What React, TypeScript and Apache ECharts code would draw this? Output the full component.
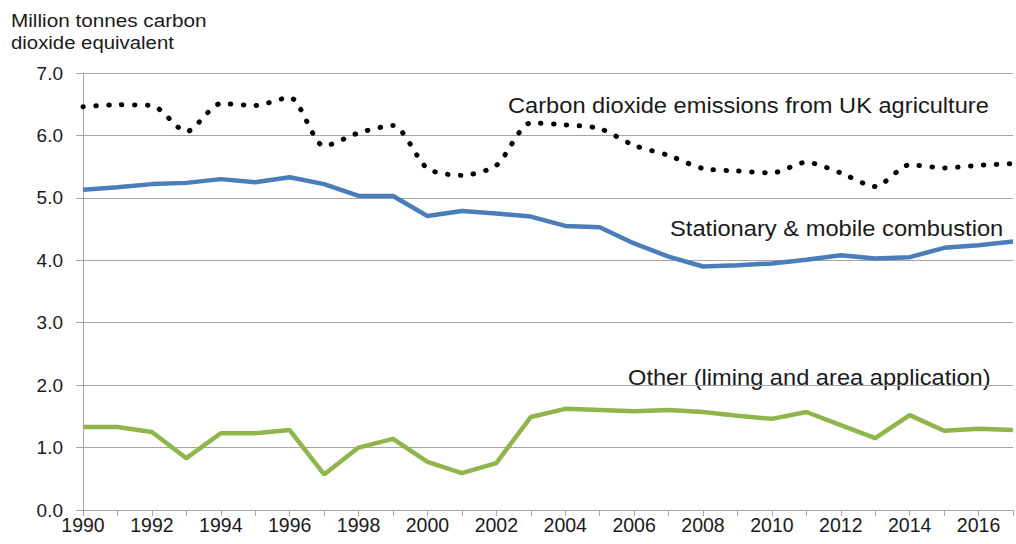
import React, { useEffect, useRef } from "react";
import * as echarts from "echarts";

const years = [1990, 1991, 1992, 1993, 1994, 1995, 1996, 1997, 1998, 1999, 2000, 2001, 2002, 2003, 2004, 2005, 2006, 2007, 2008, 2009, 2010, 2011, 2012, 2013, 2014, 2015, 2016, 2017];

const totalCO2 = [6.46, 6.49, 6.48, 6.06, 6.51, 6.48, 6.61, 5.83, 6.04, 6.16, 5.47, 5.36, 5.52, 6.2, 6.17, 6.11, 5.84, 5.68, 5.47, 5.43, 5.4, 5.57, 5.4, 5.18, 5.53, 5.48, 5.52, 5.55];
const combustion = [5.13, 5.17, 5.22, 5.24, 5.3, 5.25, 5.33, 5.22, 5.03, 5.03, 4.71, 4.79, 4.75, 4.7, 4.55, 4.53, 4.27, 4.06, 3.9, 3.92, 3.95, 4.01, 4.08, 4.03, 4.05, 4.2, 4.24, 4.3];
const other = [1.33, 1.33, 1.25, 0.83, 1.23, 1.23, 1.28, 0.57, 1.0, 1.14, 0.77, 0.59, 0.75, 1.49, 1.62, 1.6, 1.58, 1.6, 1.57, 1.51, 1.46, 1.57, 1.36, 1.15, 1.52, 1.27, 1.3, 1.28];

const seriesNames = ["Carbon dioxide emissions from UK agriculture", "Stationary & mobile combustion", "Other (liming and area application)"];
const yTitleLines = ["Million tonnes carbon", "dioxide equivalent"];

const FONT = "'Liberation Sans', Arial, sans-serif";
const TEXT = "#1a1a1a";

export default function App() {
  const ref = useRef<HTMLDivElement>(null);
  useEffect(() => {
    if (!ref.current) return;
    const chart = echarts.init(ref.current, null, { renderer: "svg" });
    const pairs = (arr: number[]) => years.map((y, i) => [y, arr[i]]);
    const label = (text: string, x: number, y: number, size: number, sx: number) => ({
      type: "text",
      x,
      y,
      scaleX: sx,
      style: { text, fontSize: size, fontFamily: FONT, fill: TEXT, textVerticalAlign: "middle", textAlign: "left" },
    });
    chart.setOption({
      animation: false,
      backgroundColor: "#ffffff",
      grid: { left: 83, right: -3, top: 73, bottom: 34, containLabel: false },
      xAxis: {
        type: "value",
        min: 1990,
        max: 2017,
        interval: 1,
        axisLine: { show: true, lineStyle: { color: "#a6a6a6", width: 1 } },
        axisTick: { show: true, length: 6, lineStyle: { color: "#a6a6a6" } },
        splitLine: { show: false },
        axisLabel: {
          color: TEXT,
          fontSize: 19.5,
          fontFamily: FONT,
          margin: 5,
          formatter: (v: number) => (v % 2 === 0 && v <= 2016 ? String(v) : ""),
        },
      },
      yAxis: {
        type: "value",
        min: 0,
        max: 7,
        interval: 1,
        axisLine: { show: true, lineStyle: { color: "#a6a6a6", width: 1 } },
        axisTick: { show: true, length: 7, lineStyle: { color: "#a6a6a6" } },
        splitLine: { show: true, lineStyle: { color: "#a6a6a6", width: 1 } },
        axisLabel: {
          color: TEXT,
          fontSize: 19,
          fontFamily: FONT,
          margin: 20,
          formatter: (v: number) => v.toFixed(1),
        },
      },
      series: [
        {
          name: seriesNames[0],
          type: "line",
          data: pairs(totalCO2),
          smooth: 0.25,
          symbol: "none",
          lineStyle: { color: "#000000", width: 5, type: [0.5, 12.4], cap: "round" },
        },
        {
          name: seriesNames[1],
          type: "line",
          data: pairs(combustion),
          symbol: "none",
          lineStyle: { color: "#4a7ebb", width: 4.5 },
        },
        {
          name: seriesNames[2],
          type: "line",
          data: pairs(other),
          symbol: "none",
          lineStyle: { color: "#8fb54b", width: 4.5 },
        },
      ],
      graphic: [
        label(yTitleLines[0], 11, 20, 18.5, 1.12),
        label(yTitleLines[1], 11, 42, 18.5, 1.1),
        label(seriesNames[0], 508, 105, 22, 1.075),
        label(seriesNames[1], 670, 228, 22, 1.078),
        label(seriesNames[2], 628, 377, 22, 1.075),
      ],
    });
    return () => chart.dispose();
  }, []);
  return <div ref={ref} style={{ position: "fixed", left: 0, top: 0, width: 1016, height: 544 }} />;
}
